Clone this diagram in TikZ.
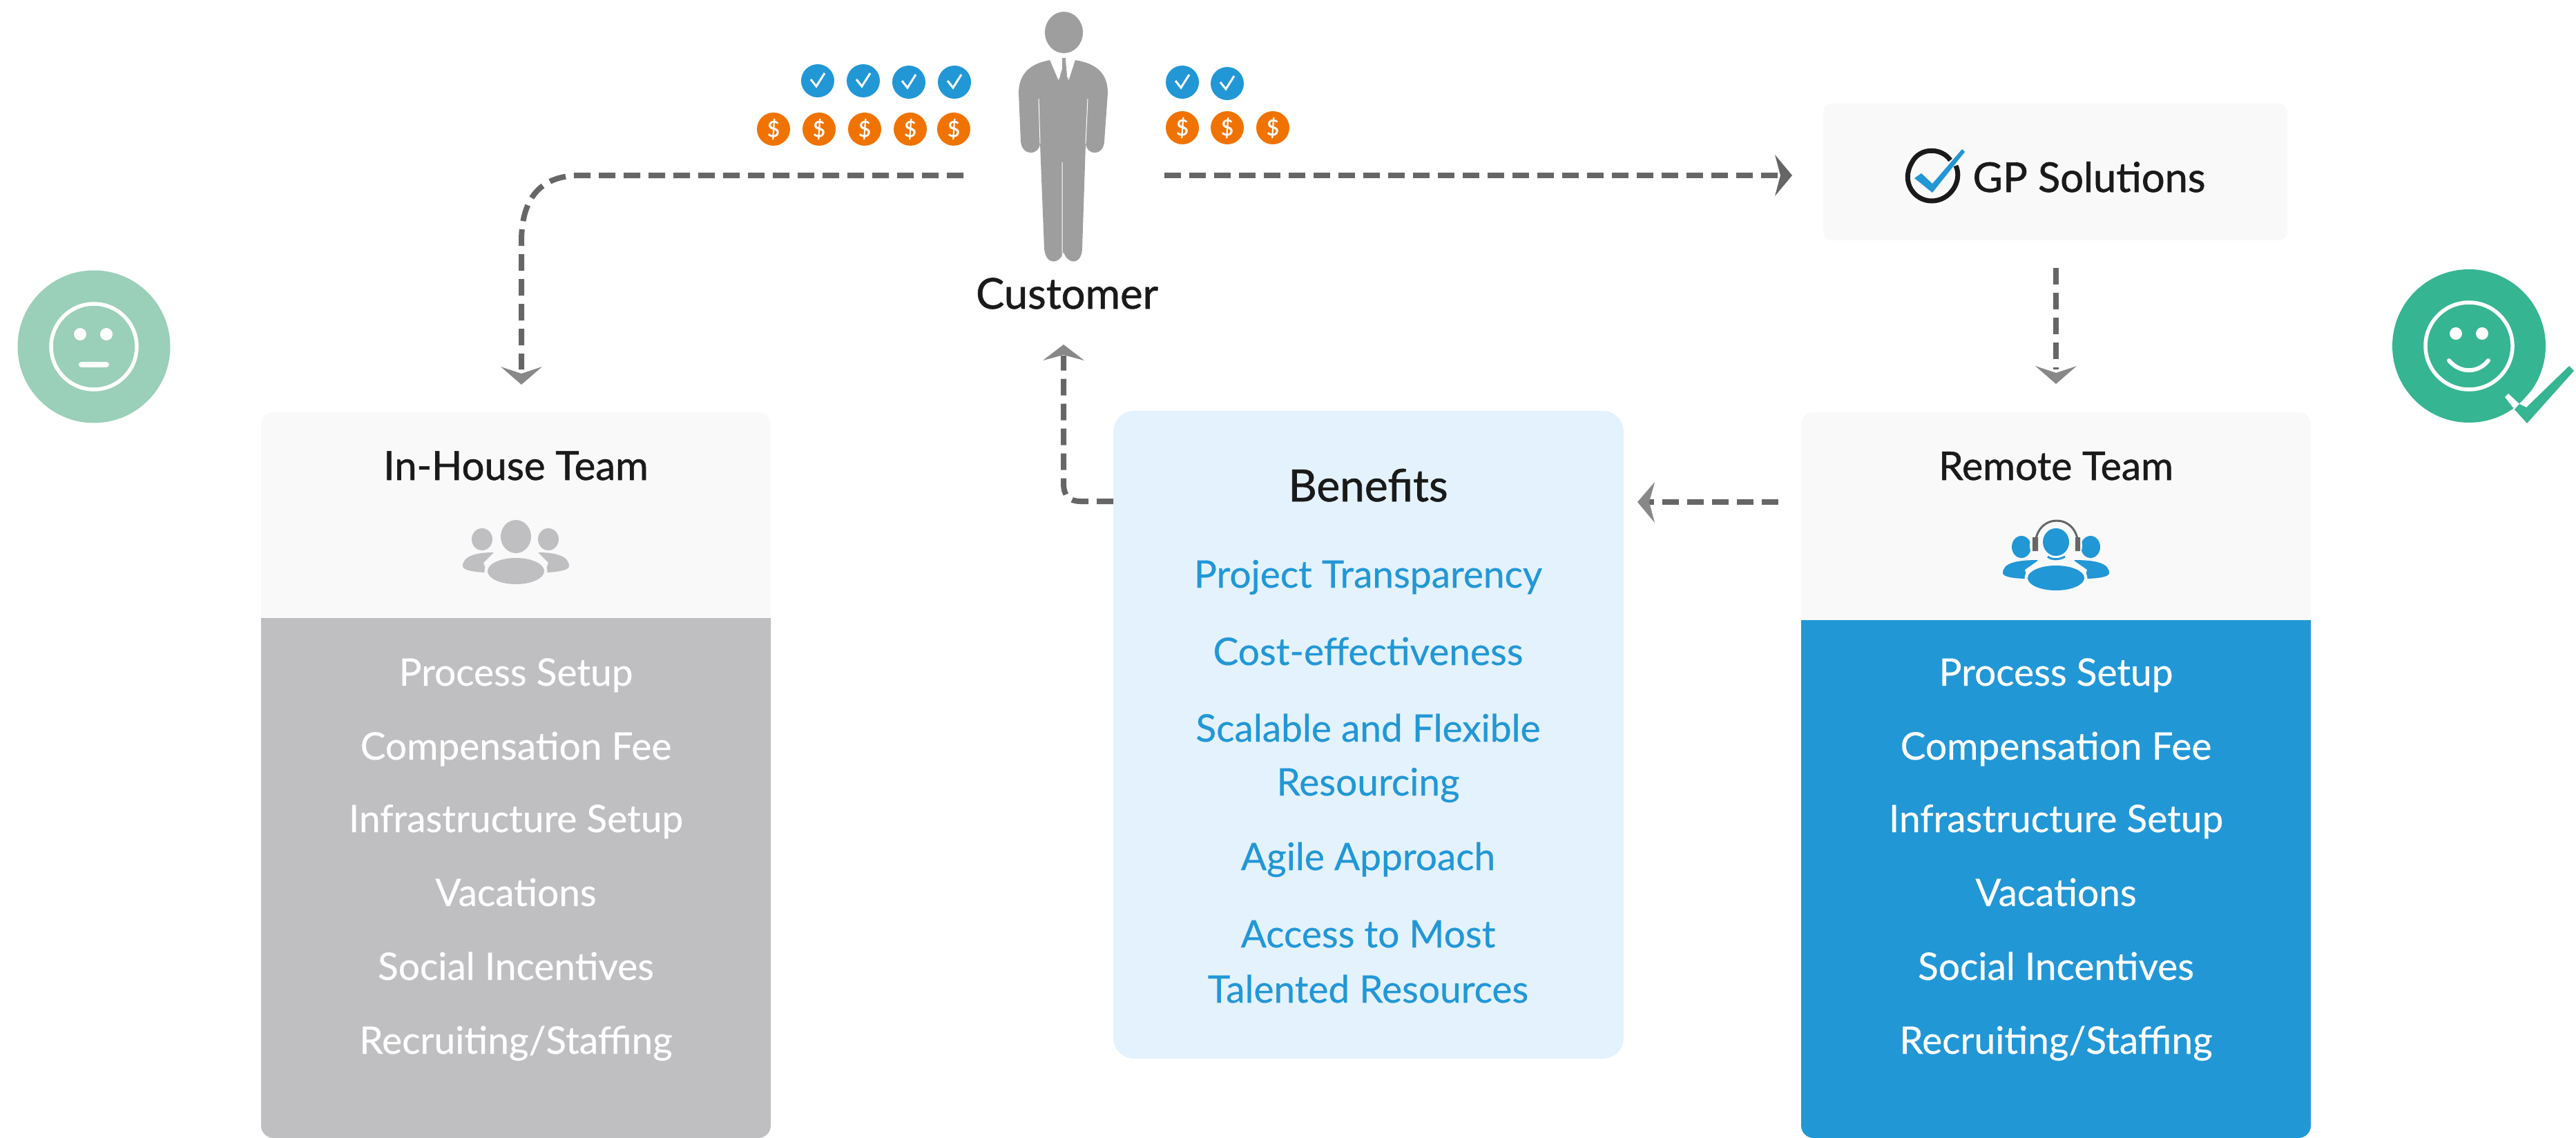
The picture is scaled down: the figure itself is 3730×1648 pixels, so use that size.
\documentclass[tikz,border=0pt]{standalone}
\usepackage{fontspec}
\setmainfont{Lato}
\newfontfamily\rowf[FakeBold=0.35]{Lato}
\newfontfamily\headf[FakeBold=1.0]{Lato}
\definecolor{panel}{HTML}{F9F9F9}
\definecolor{greyp}{HTML}{BFBEC1}
\definecolor{bluep}{HTML}{2297D6}
\definecolor{lightb}{HTML}{E3F2FD}
\definecolor{dashc}{HTML}{666666}
\definecolor{tipc}{HTML}{888888}
\definecolor{orng}{HTML}{F07300}
\definecolor{figgrey}{HTML}{9E9E9E}
\definecolor{faceA}{HTML}{9ACFB9}
\definecolor{faceB}{HTML}{36B592}
\definecolor{ink}{HTML}{1A1A1A}
\tikzset{
 x=1pt,y=-1pt,
 conn/.style={draw=dashc,line width=8pt,dash pattern=on 24pt off 12pt,line cap=butt},
 rowtxt/.style={text=white,font=\rowf\fontsize{55}{60}\selectfont,inner sep=0pt,anchor=base},
 bentxt/.style={text=bluep,font=\rowf\fontsize{55}{60}\selectfont,inner sep=0pt,anchor=base},
 title/.style={text=ink,font=\headf\fontsize{58}{60}\selectfont,inner sep=0pt,anchor=base},
 blueic/.style={circle,fill=bluep,minimum size=48pt,inner sep=0pt},
 orangeic/.style={circle,fill=orng,minimum size=48pt,inner sep=0pt,text=white,font=\headf\fontsize{32}{32}\selectfont},
}
\newcommand{\tickat}[2]{\draw[white,line width=3pt] (#1-10,#2-2) -- (#1-2,#2+8) -- (#1+10,#2-11);}
\newcommand{\tipdown}[2]{\fill[tipc] (#1-30,#2-26) -- (#1,#2-16) -- (#1+30,#2-26) -- (#1,#2) -- cycle;}
\begin{document}
\begin{tikzpicture}
\useasboundingbox (0,0) rectangle (3730,1648);
\fill[white] (0,0) rectangle (3730,1648);
% panels
\fill[panel,rounded corners=18pt] (378,597) rectangle (1116,1000);
\fill[greyp] (378,895) -- (1116,895) [rounded corners=18pt] -- (1116,1648) -- (378,1648) [sharp corners] -- (378,895) -- cycle;
\fill[panel,rounded corners=18pt] (2608,597) rectangle (3346,1000);
\fill[bluep] (2608,898) -- (3346,898) [rounded corners=18pt] -- (3346,1648) -- (2608,1648) [sharp corners] -- (2608,898) -- cycle;
\node[fill=lightb,rounded corners=30pt,minimum width=739pt,minimum height=938pt,inner sep=0pt] (ben) at (1981.5,1064) {};
\node[fill=panel,rounded corners=12pt,minimum width=672pt,minimum height=198pt,inner sep=0pt] (gp) at (2976,249) {};
\coordinate (lstart) at (1395,254);
\coordinate (rstart) at (1686,254);
\coordinate (bw) at (1612,726);
% connectors
\draw[conn] (lstart) -- (840,254) .. controls (780,254) and (755,290) .. (755,350) -- (755,535);
\tipdown{755}{557}
\draw[conn] (rstart) -- (2580,254);
\fill[dashc] (2570,224) -- (2595,254) -- (2570,284) -- (2578,254) -- cycle;
\draw[conn] (2977,388) -- (2977,535);
\tipdown{2977}{556}
\draw[conn] (bw) -- (1565,726) .. controls (1548,726) and (1540,718) .. (1540,700) -- (1540,515);
\fill[tipc] (1510,522) -- (1540,514) -- (1570,522) -- (1540,499) -- cycle;
\draw[conn] (2575,727) -- (2385,727);
\fill[tipc] (2396,698) -- (2388,727) -- (2396,757) -- (2371,727) -- cycle;
% faces
\node[circle,fill=faceA,minimum size=221pt,inner sep=0pt] (sad) at (136,502) {};
\draw[white,line width=5.5pt] (sad.center) circle[radius=62];
\fill[white] (116,484) circle[radius=9] (154,484) circle[radius=9];
\draw[white,line width=8pt,line cap=round] (118,528) -- (154,528);
\node[circle,fill=faceB,minimum size=222pt,inner sep=0pt] (happy) at (3575,501) {};
\draw[white,line width=5.5pt] (happy.center) circle[radius=63];
\fill[white] (3556,483) circle[radius=9] (3594,483) circle[radius=9];
\draw[white,line width=6pt,line cap=round] (3546,522) .. controls (3562,541) and (3588,541) .. (3603,522);
\fill[white] (3627,575) -- (3632,570) -- (3648,585) -- (3641,593) -- cycle;
\fill[white] (3648,585) -- (3658,590) -- (3695,553) -- (3680,550) -- cycle;
\fill[faceB] (3720,530) -- (3727,537) -- (3659,613) -- (3641,593) -- (3648,585) -- (3658,590) -- cycle;
% customer figure
\fill[figgrey] (1540.5,47) ellipse[x radius=27.5,y radius=30];
\fill[figgrey] (1521,87) -- (1533,115) -- (1538,100) -- (1538,84) -- (1543,84) -- (1544,100) -- (1547,115) -- (1556,87)
 .. controls (1590,92) and (1604,108) .. (1604,135) -- (1599,205) .. controls (1598,226) and (1574,226) .. (1572,208)
 -- (1567,360) .. controls (1566,384) and (1546,384) .. (1540,365) .. controls (1534,384) and (1514,384) .. (1512,360)
 -- (1506,208) .. controls (1504,226) and (1480,226) .. (1478,205) -- (1475,135)
 .. controls (1475,108) and (1490,92) .. (1521,87) -- cycle;
\draw[white,line width=1pt] (1504,143) -- (1506,208) (1575,143) -- (1572,208) (1538,235) -- (1538,370);
\draw[white,line width=1.5pt] (1521,87) -- (1533,115) (1556,87) -- (1547,115) (1536,86) -- (1534,112) (1544,86) -- (1546,112);
\node[title,font=\headf\fontsize{61.5}{60}\selectfont] (cust) at (1545,447) {Customer};
% coin icons
\foreach \n/\x/\y in {a/1184/117,b/1250/117,c/1316/119,d/1382/119,e/1712/119,f/1777/121}{
 \node[blueic] (b\n) at (\x,\y) {};
 \tickat{\x}{\y}
}
\foreach \n/\x/\y in {a/1120/187,b/1186/187,c/1252/187,d/1318/187,e/1381/187,f/1712/185,g/1777/185,h/1843/185}{
 \node[orangeic] (o\n) at (\x,\y) {\$};
}
% GP logo
\draw[ink,line width=7pt] (2824,232) .. controls (2812,214) and (2780,212) .. (2768,236) .. controls (2752,264) and (2772,291) .. (2797,291) .. controls (2824,291) and (2842,262) .. (2832,240);
\fill[bluep] (2772,258) -- (2782,251) -- (2798,266) -- (2841,216) -- (2845,220) -- (2798,279) -- cycle;
\node[title,font=\headf\fontsize{59.5}{60}\selectfont] (gptext) at (3025,278) {GP Solutions};
% headings
\node[title] (t1) at (747,695) {In-House Team};
\node[title,font=\headf\fontsize{57}{60}\selectfont] (t2) at (2977,695) {Remote Team};
\node[title,font=\headf\fontsize{64}{60}\selectfont] (t3) at (1981,726) {Benefits};
% group icon grey
\fill[greyp] (747,777) ellipse[x radius=22,y radius=24];
\fill[greyp] (698,781) ellipse[x radius=15,y radius=16] (794,781) ellipse[x radius=15,y radius=16];
\fill[greyp] (670,820) .. controls (670,805) and (690,800) .. (715,800) -- (700,815) -- (705,829) .. controls (690,829) and (670,826) .. (670,820) -- cycle;
\fill[greyp] (824,820) .. controls (824,805) and (804,800) .. (779,800) -- (794,815) -- (789,829) .. controls (804,829) and (824,826) .. (824,820) -- cycle;
\fill[greyp] (747,827) ellipse[x radius=41,y radius=19];
\draw[panel,line width=3pt] (747,827) ellipse[x radius=44,y radius=22];
% group icon blue
\fill[bluep] (2927,792) ellipse[x radius=14,y radius=16] (3027,792) ellipse[x radius=14,y radius=16];
\fill[bluep] (2900,830) .. controls (2900,815) and (2920,811) .. (2952,811) -- (2932,825) -- (2935,838) .. controls (2920,838) and (2900,836) .. (2900,830) -- cycle;
\fill[bluep] (3054,830) .. controls (3054,815) and (3034,811) .. (3002,811) -- (3022,825) -- (3019,838) .. controls (3034,838) and (3054,836) .. (3054,830) -- cycle;
\fill[panel] (2977,790) ellipse[x radius=38,y radius=30];
\fill[bluep] (2977,785) ellipse[x radius=19,y radius=20];
\draw[dashc,line width=3pt] (2947,790) .. controls (2947,742) and (3009,742) .. (3009,790);
\fill[dashc] (2943,778) rectangle (2951,798) (3005,778) rectangle (3012,798);
\fill[bluep] (2977,837) ellipse[x radius=41,y radius=18];
\draw[panel,line width=3pt] (2977,837) ellipse[x radius=44,y radius=21];
\draw[bluep,line width=3pt] (2965,806) .. controls (2970,811) and (2982,811) .. (2990,806);
% rows
\foreach \n/\t/\y in {a/Process Setup/993,b/Compensation Fee/1100,c/Infrastructure Setup/1205,d/Vacations/1312,e/Social Incentives/1419,f/Recruiting\slash Staffing/1526}{
 \node[rowtxt] (l\n) at (747,\y) {\t};
 \node[rowtxt] (r\n) at (2977,\y) {\t};
}
% benefits
\foreach \n/\t/\y in {a/Project Transparency/851,b/Cost-effectiveness/963,c/Scalable and Flexible/1074,d/Resourcing/1152,e/Agile Approach/1260,f/Access to Most/1372,g/Talented Resources/1452}{
 \node[bentxt] (k\n) at (1981,\y) {\t};
}
\end{tikzpicture}
\end{document}
